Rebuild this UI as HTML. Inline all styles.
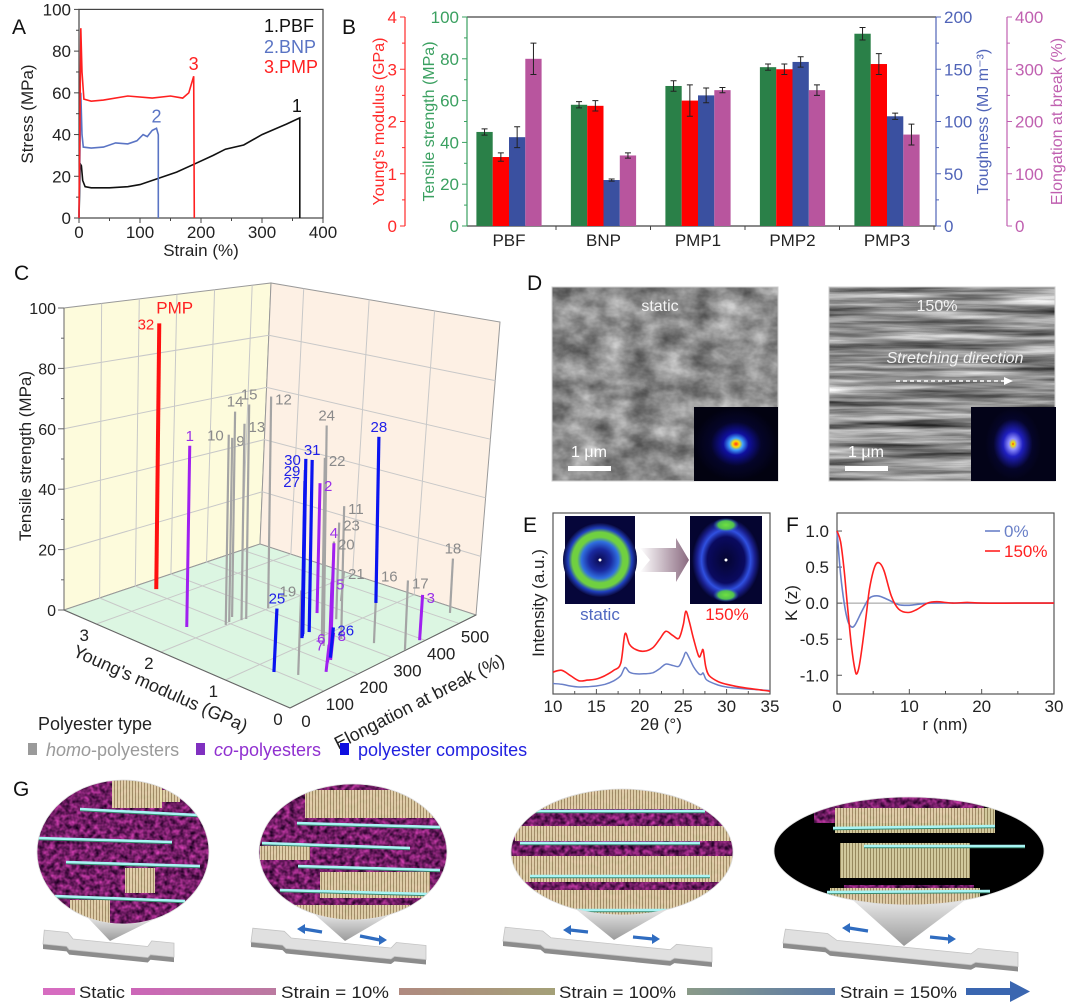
<!DOCTYPE html>
<html><head><meta charset="utf-8"><style>
html,body{margin:0;padding:0;background:#fff;}
svg{display:block;font-family:"Liberation Sans",Arial,sans-serif;}
filter{color-interpolation-filters:sRGB;}
</style></head><body>
<svg id="fig" width="1080" height="1008" viewBox="0 0 1080 1008" xmlns="http://www.w3.org/2000/svg">
<defs>
<filter id="semA" x="0" y="0" width="1" height="1" color-interpolation-filters="sRGB"><feTurbulence type="fractalNoise" baseFrequency="0.035 0.05" numOctaves="4" seed="3"/><feColorMatrix type="matrix" values="0.7 0 0 0 0.2  0.7 0 0 0 0.2  0.7 0 0 0 0.2  0 0 0 0 1"/></filter>
<filter id="semB" x="0" y="0" width="1" height="1" color-interpolation-filters="sRGB"><feTurbulence type="fractalNoise" baseFrequency="0.008 0.14" numOctaves="4" seed="7"/><feColorMatrix type="matrix" values="1.1 0 0 0 0.0  1.1 0 0 0 0.0  1.1 0 0 0 0.0  0 0 0 0 1"/></filter>
<filter id="fib" x="0" y="0" width="1" height="1" color-interpolation-filters="sRGB"><feTurbulence type="fractalNoise" baseFrequency="0.2" numOctaves="2" seed="5"/><feColorMatrix type="matrix" values="1.0 0 0 0 -0.05  0.35 0 0 0 -0.06  0.8 0 0 0 0.0  0 0 0 0 1"/></filter>
<radialGradient id="fftA"><stop offset="0" stop-color="#ff3020"/><stop offset="0.08" stop-color="#ffe000"/><stop offset="0.16" stop-color="#40a0ff"/><stop offset="0.3" stop-color="#1010a0"/><stop offset="0.6" stop-color="#05052a"/><stop offset="1" stop-color="#020210"/></radialGradient>
<radialGradient id="fftB"><stop offset="0" stop-color="#ff3020"/><stop offset="0.05" stop-color="#f0e000"/><stop offset="0.15" stop-color="#9090ff"/><stop offset="0.35" stop-color="#2020c0"/><stop offset="0.7" stop-color="#05052a"/><stop offset="1" stop-color="#030318"/></radialGradient>
<radialGradient id="ringA"><stop offset="0" stop-color="#0a0a50"/><stop offset="0.3" stop-color="#1a2aa0"/><stop offset="0.5" stop-color="#3070e0"/><stop offset="0.62" stop-color="#70d040"/><stop offset="0.75" stop-color="#70d040"/><stop offset="0.86" stop-color="#2040c0"/><stop offset="1" stop-color="#0a0a40"/></radialGradient>
<radialGradient id="ringB"><stop offset="0" stop-color="#050530"/><stop offset="0.55" stop-color="#0a0a60"/><stop offset="0.72" stop-color="#3050e0"/><stop offset="0.85" stop-color="#1a2090"/><stop offset="1" stop-color="#050530"/></radialGradient>
<radialGradient id="spot"><stop offset="0" stop-color="#70e040"/><stop offset="0.6" stop-color="#50c050"/><stop offset="1" stop-color="#3050e0" stop-opacity="0"/></radialGradient>
<linearGradient id="arrowE" x1="0" x2="1"><stop offset="0" stop-color="#ffffff"/><stop offset="1" stop-color="#8a6a80"/></linearGradient>
<linearGradient id="cone" x1="0" y1="0" x2="0" y2="1"><stop offset="0" stop-color="#e8e8e8"/><stop offset="1" stop-color="#9a9a9a"/></linearGradient>
<linearGradient id="seg1" x1="0" x2="1"><stop offset="0" stop-color="#cc66b8"/><stop offset="1" stop-color="#bb7aa0"/></linearGradient>
<linearGradient id="seg2" x1="0" x2="1"><stop offset="0" stop-color="#b08a80"/><stop offset="1" stop-color="#a4a078"/></linearGradient>
<linearGradient id="seg3" x1="0" x2="1"><stop offset="0" stop-color="#8a9a88"/><stop offset="1" stop-color="#5a7aa8"/></linearGradient>
<pattern id="yel" width="3" height="10" patternUnits="userSpaceOnUse"><rect width="3" height="10" fill="#e9dfae"/><rect width="1" height="10" fill="#a89868"/></pattern>
<clipPath id="cE1"><ellipse cx="123" cy="852" rx="86" ry="72"/></clipPath>
<clipPath id="cE2"><ellipse cx="353" cy="852" rx="94" ry="68"/></clipPath>
<clipPath id="cE3"><ellipse cx="622" cy="852" rx="111" ry="63"/></clipPath>
<clipPath id="cE4"><ellipse cx="909" cy="851" rx="135" ry="54"/></clipPath>
</defs>
<rect width="1080" height="1008" fill="#fff"/>
<g id="pA"></g>
<g id="pB"></g>
<g id="pC"></g>
<g id="pD"></g>
<g id="pE"></g>
<g id="pF"></g>
<g id="pG"></g>
</svg>
<script>
// ---------- Panel A data ----------
const strainPBF=[0,2,4,6,10,20,50,80,100,130,160,190,220,240,270,300,340,362,362];
const stressPBF=[0,26,25,18,15,14.5,14.5,15,16,19,22,26,30,33,35,40,45,48,0];
const strainBNP=[0,3,5,7,20,40,60,80,95,105,112,120,127,130,130];
const stressBNP=[0,60,40,34,33.5,34,36,35.5,37,40,39,42,43,40,0];
const strainPMP=[0,3,5,8,20,40,80,120,150,170,180,188,189];
const stressPMP=[0,91,70,57,56,56.5,58.5,57.5,58.5,57.5,60,68,0];
const aXTicks=[0,100,200,300,400];
const aYTicks=[0,20,40,60,80,100];
// ---------- Panel B data ----------
const bCats=["PBF","BNP","PMP1","PMP2","PMP3"];
const bStrength=[45,58,67,76,92];
const bStrengthErr=[1.5,1.5,2.5,1.5,3];
const bModulus=[1.32,2.3,2.4,3.0,3.1];
const bModulusErr=[0.08,0.1,0.3,0.1,0.2];
const bTough=[85,44,125,157,105];
const bToughErr=[10,1,7,5,3];
const bElong=[320,135,260,260,175];
const bElongErr=[30,5,5,10,20];
// ---------- Panel C data ----------
const cIds=["32","1","10","9","14","13","15","12","24","22","11","23","20","21","19","16","17","18","28","25","3","2","4","5","6","7","8","26","27","29","30","31"];
const cModulus=[3.08,2.2,1.91,1.93,1.99,1.86,1.84,1.84,0.75,0.93,0.72,1.09,1.37,1.35,0.48,0.38,0.01,0.25,1.03,0.73,0.05,1.35,0.69,0.52,0.45,0.3,0.46,0.5,1.06,1.09,1.12,1.1];
const cElong=[193,115,175,189,209,212,222,287,243,272,289,345,383,409,116,321,342,521,451,92,393,338,253,215,197,164,208,215,238,245,252,267];
const cStrength=[88,60,63,61,68,65,71,70,73,59,44,32,21,10,28,23,23,18,55,21,15,43,34,25,8,9,9,10,52,55,58,57];
const cType=["pmp","c","h","h","h","h","h","h","h","h","h","h","h","h","h","h","h","h","p","p","c","c","c","c","c","c","c","p","p","p","p","p"];
const cLabelSide=["L","T","L","R","T","R","T","R","T","R","R","R","R","R","L","R","R","T","T","T","R","R","T","R","L","L","R","R","L","L","L","T"];
const cZTicks=[0,20,40,60,80,100];
const cMTicks=[0,1,2,3];
const cETicks=[0,100,200,300,400,500];
// ---------- Panel E data ----------
const eTheta=[10,11,12,13,14,15,16,17,17.8,18.3,18.8,19.5,20.5,21.5,22.3,23,23.8,24.5,25,25.3,25.7,26.2,26.8,27.1,27.3,27.6,28,29,30,32,35];
const eRed=[63,68,53,38,40,43,53,68,88,173,143,128,123,133,158,180,168,160,198,238,208,158,108,118,126,78,53,36,28,18,8];
const eBlue=[30,28,23,20,21,23,28,38,53,76,63,58,58,61,73,86,82,80,103,120,103,78,58,56,60,43,36,26,20,15,10];
const eXTicks=[10,15,20,25,30,35];
// ---------- Panel F data ----------
const fRr=[0,0.5,1,1.5,2,2.5,2.8,3.2,4,4.5,5.2,5.8,6.5,7.5,8.5,9.8,11,12.5,13.8,16,18,20,25,30];
const fKr=[1,0.85,0.45,-0.1,-0.6,-0.93,-0.97,-0.8,-0.2,0.2,0.5,0.56,0.45,0.1,-0.08,-0.13,-0.09,0,0.02,0,0.01,0,0,0];
const fRb=[0,0.5,1,1.5,2,2.5,3.5,4.5,5.7,7,8.5,10,13,20,30];
const fKb=[1,0.4,0,-0.25,-0.33,-0.3,-0.1,0.07,0.1,0.05,-0.02,-0.03,0,0,0];
const fXTicks=[0,10,20,30];
const fYTicks=[1.0,0.5,0.0,-0.5,-1.0];

const NS='http://www.w3.org/2000/svg';
function el(tag,attrs,parent){const e=document.createElementNS(NS,tag);for(const k in attrs)e.setAttribute(k,attrs[k]);parent.appendChild(e);return e;}
function tx(s,attrs,parent){const t=el('text',attrs,parent);t.textContent=s;return t;}
function poly(xs,ys,fx,fy){return xs.map((v,i)=>(i?'L':'M')+fx(v).toFixed(1)+','+fy(ys[i]).toFixed(1)).join(' ');}
function smooth(xs,ys,fx,fy){const P=xs.map((v,i)=>[fx(v),fy(ys[i])]);let d='M'+P[0][0]+','+P[0][1];for(let i=0;i<P.length-1;i++){const p0=P[Math.max(0,i-1)],p1=P[i],p2=P[i+1],p3=P[Math.min(P.length-1,i+2)];const c1=[p1[0]+(p2[0]-p0[0])/6,p1[1]+(p2[1]-p0[1])/6],c2=[p2[0]-(p3[0]-p1[0])/6,p2[1]-(p3[1]-p1[1])/6];d+=` C${c1[0].toFixed(1)},${c1[1].toFixed(1)} ${c2[0].toFixed(1)},${c2[1].toFixed(1)} ${p2[0].toFixed(1)},${p2[1].toFixed(1)}`;}return d;}
const FT='font-size';

// ================= Panel A =================
(function(){
const g=document.getElementById('pA');
const xA=s=>79+s*(323-79)/400, yA=v=>218-v*(218-9.4)/100;
let t=tx('A',{x:12,y:34,[FT]:21,fill:'#111'},g);

const box=el('rect',{x:79,y:9.4,width:244,height:208.6,fill:'none',stroke:'#444','stroke-width':1.2},g);

aXTicks.forEach(v=>{el('line',{x1:xA(v),x2:xA(v),y1:218,y2:223,stroke:'#444'},g);
 const l=tx(String(v),{x:xA(v),y:238,[FT]:17,'text-anchor':'middle',fill:'#222'},g);
 
 if(v<400){el('line',{x1:xA(v+50),x2:xA(v+50),y1:218,y2:221,stroke:'#444'},g);}});
aYTicks.forEach(v=>{el('line',{x1:74,x2:79,y1:yA(v),y2:yA(v),stroke:'#444'},g);
 const l=tx(String(v),{x:71,y:yA(v)+6,[FT]:17,'text-anchor':'end',fill:'#222'},g);
 
 if(v<100)el('line',{x1:76,x2:79,y1:yA(v+10),y2:yA(v+10),stroke:'#444'},g);});
t=tx('Stress (MPa)',{x:0,y:0,[FT]:17,'text-anchor':'middle',fill:'#222',transform:'translate(33,114) rotate(-90)'},g);

t=tx('Strain (%)',{x:201,y:256,[FT]:17,'text-anchor':'middle',fill:'#222'},g);

let p=el('path',{d:poly(strainPBF,stressPBF,xA,yA),fill:'none',stroke:'#111','stroke-width':1.6},g);

p=el('path',{d:poly(strainBNP,stressBNP,xA,yA),fill:'none',stroke:'#5a74c4','stroke-width':1.6},g);

p=el('path',{d:poly(strainPMP,stressPMP,xA,yA),fill:'none',stroke:'#ff2020','stroke-width':1.6},g);

t=tx('1',{x:xA(strainPBF[17])-8,y:yA(stressPBF[17])-6,[FT]:18,fill:'#111'},g);
t=tx('2',{x:xA(strainBNP[12])-5,y:yA(stressBNP[12])-6,[FT]:18,fill:'#5a74c4'},g);
t=tx('3',{x:xA(strainPMP[11])-5,y:yA(stressPMP[11])-6,[FT]:18,fill:'#ff2020'},g);
t=tx('1.PBF',{x:264,y:32,[FT]:18,fill:'#111'},g);
t=tx('2.BNP',{x:264,y:53,[FT]:18,fill:'#5a74c4'},g);
t=tx('3.PMP',{x:264,y:73,[FT]:18,fill:'#ff2020'},g);
})();

// ================= Panel B =================
(function(){
const g=document.getElementById('pB');
const top=17,bot=226,L=467,R=936;
const yG=v=>bot-v/100*(bot-top), yR=v=>bot-v/4*(bot-top), yT=v=>bot-v/200*(bot-top), yEl=v=>bot-v/400*(bot-top);
let t=tx('B',{x:342,y:34,[FT]:21,fill:'#111'},g);
el('line',{x1:L,x2:R,y1:top,y2:top,stroke:'#444','stroke-width':1.2},g);
el('line',{x1:L,x2:R,y1:bot,y2:bot,stroke:'#444','stroke-width':1.2},g);
function axis(x,ticks,fy,col,side,title,tx0,name){
 const a=el('g',{},g);
 el('line',{x1:x,x2:x,y1:top,y2:bot,stroke:col,'stroke-width':1.2},a);
 ticks.forEach((v,i)=>{const y=fy(v);el('line',{x1:x,x2:x+side*5,y1:y,y2:y,stroke:col},a);
  tx(String(v),{x:x+side*8,y:y+6,[FT]:17,'text-anchor':side<0?'end':'start',fill:col},a);
  if(i<ticks.length-1){const y2=fy((v+ticks[i+1])/2);el('line',{x1:x,x2:x+side*3,y1:y2,y2:y2,stroke:col},a);}});
 tx(title,{x:0,y:0,[FT]:16,'text-anchor':'middle',fill:col,transform:`translate(${tx0},${(top+bot)/2}) rotate(-90)`},a);
}
axis(405,[0,1,2,3,4],yR,'#ff2a2a',-1,"Young's modulus (GPa)",384,'y-axis-modulus');
axis(467,[0,20,40,60,80,100],yG,'#3aa060',-1,'Tensile strength (MPa)',434,'y-axis-strength');
axis(936,[0,50,100,150,200],yT,'#5064b8',1,'Toughness (MJ m\u207B\u00B3)',988,'y-axis-toughness');
axis(1007,[0,100,200,300,400],yEl,'#c060b0',1,'Elongation at break (%)',1062,'y-axis-elongation');
const series=[[bStrength,bStrengthErr,yG,'#2a8048','bar-strength'],[bModulus,bModulusErr,yR,'#ff0000','bar-modulus'],[bTough,bToughErr,yT,'#3a50a0','bar-toughness'],[bElong,bElongErr,yEl,'#b8559e','bar-elongation']];
const bw=16.3;
bCats.forEach((c,i)=>{
 const cx=509+i*94.5;
 el('line',{x1:cx+47,x2:cx+47,y1:bot,y2:bot+4,stroke:'#444'},g);
 const l=tx(c,{x:cx,y:246,[FT]:17,'text-anchor':'middle',fill:'#222'},g);
 
 series.forEach((s,j)=>{const v=s[0][i],e=s[1][i],fy=s[2];const x=cx-2*bw+j*bw;
  const r=el('rect',{x:x,y:fy(v),width:bw,height:bot-fy(v),fill:s[3]},g);
  
  const eb=el('path',{d:`M${x+bw/2},${fy(v+e)}V${fy(v-e)}M${x+bw/2-3},${fy(v+e)}h6M${x+bw/2-3},${fy(v-e)}h6`,stroke:'#222','stroke-width':1,fill:'none'},g);
  });
});
})();

// ================= Panel C =================
(function(){
const g=document.getElementById('pC');
const F=[290,708],Mv=[-64.6,-28],Ev=[0.338,-0.169],kz=3.02;
const P=(m,e)=>[F[0]+m*Mv[0]+e*Ev[0],F[1]+m*Mv[1]+e*Ev[1]];
const cL=[64,610],cB=[260,544],cR=[476,615],cF=[290,708];
const tL=[64,308],tB=[271,283],tR=[500,322];
const lerp=(a,b,t)=>[a[0]+(b[0]-a[0])*t,a[1]+(b[1]-a[1])*t];
let t=tx('C',{x:14,y:280,[FT]:21,fill:'#111'},g);
let w=el('polygon',{points:[cL,cB,tB,tL].join(' '),fill:'#fdfbdc',stroke:'#999'},g);
w=el('polygon',{points:[cB,cR,tR,tB].join(' '),fill:'#fdf0e4',stroke:'#999'},g);
w=el('polygon',{points:[cL,cB,cR,cF].join(' '),fill:'#dcf6e2',stroke:'#999'},g);
const grid=el('g',{stroke:'#c8c8c8','stroke-width':1,fill:'none'},g);
[20,40,60,80].forEach(z=>{const a=[64,610-kz*z],b=[260+11*z/100,544-2.61*z],c=[476+24*z/100,615-2.93*z];
 el('polyline',{points:[a,b,c].join(' ')},grid);});
for(let i=1;i<6;i++){const f=i/5.5;const a=lerp(cL,cB,f),b=lerp(tL,tB,f);el('line',{x1:a[0],y1:a[1],x2:b[0],y2:b[1]},grid);
 const c=lerp(cF,cR,f);el('line',{x1:a[0],y1:a[1],x2:c[0],y2:c[1]},grid);}
for(let i=1;i<4;i++){const f=i/3.5;const a=lerp(cR,cB,f),b=lerp(tR,tB,f);el('line',{x1:a[0],y1:a[1],x2:b[0],y2:b[1]},grid);
 const c=lerp(cF,cL,f);el('line',{x1:a[0],y1:a[1],x2:c[0],y2:c[1]},grid);}
const za=el('g',{},g);
el('line',{x1:64,x2:64,y1:610,y2:308,stroke:'#666'},za);
cZTicks.forEach(v=>{const y=610-kz*v;el('line',{x1:58,x2:64,y1:y,y2:y,stroke:'#666'},za);
 tx(String(v),{x:56,y:y+6,[FT]:16,'text-anchor':'end',fill:'#222'},za);
 if(v<100)el('line',{x1:61,x2:64,y1:y-kz*10,y2:y-kz*10,stroke:'#666'},za);});
t=tx('Tensile strength (MPa)',{x:0,y:0,[FT]:17,'text-anchor':'middle',fill:'#222',transform:'translate(31,456) rotate(-90)'},g);

const ma=el('g',{},g);
el('line',{x1:cL[0],y1:cL[1],x2:cF[0],y2:cF[1],stroke:'#666'},ma);
cMTicks.forEach(v=>{const p=P(v,0);tx(String(v),{x:p[0]-12,y:p[1]+17,[FT]:17,'text-anchor':'middle',fill:'#222'},ma);});
t=tx("Young's modulus (GPa)",{x:0,y:0,[FT]:18,'text-anchor':'middle',fill:'#222',transform:'translate(158,694) rotate(24)'},g);

const ea=el('g',{},g);
el('line',{x1:cF[0],y1:cF[1],x2:cR[0],y2:cR[1],stroke:'#666'},ea);
cETicks.forEach(v=>{const p=P(0,v);tx(String(v),{x:p[0]+16,y:p[1]+19,[FT]:17,'text-anchor':'middle',fill:'#222'},ea);});
t=tx('Elongation at break (%)',{x:0,y:0,[FT]:18,'text-anchor':'middle',fill:'#222',transform:'translate(422,707) rotate(-27)'},g);

const col={h:'#a4a4a4',c:'#a020f0',p:'#0a14f0',pmp:'#ff1010'};
const lcol={h:'#8a8a8a',c:'#9a30e8',p:'#2020e8',pmp:'#ff2020'};
const wid={h:2.2,c:3,p:3.2,pmp:4};
cIds.forEach((id,i)=>{const b=P(cModulus[i],cElong[i]);const ty=b[1]-cStrength[i]*kz;const ty2=cType[i];
 const ln=el('line',{x1:b[0],y1:b[1],x2:b[0]+3,y2:ty,stroke:col[ty2],'stroke-width':wid[ty2]},g);
 
 const s=cLabelSide[i];let lx=b[0]+3,ly=ty-5,an='middle';
 if(s==='L'){lx=b[0]-2;ly=ty+6;an='end';}else if(s==='R'){lx=b[0]+7;ly=ty+8;an='start';}
 const lb=tx(id,{x:lx,y:ly,[FT]:15,'text-anchor':an,fill:lcol[ty2]},g);
 
 if(ty2==='pmp'){const pl=tx('PMP',{x:b[0]+0,y:ty-10,[FT]:17,fill:'#ff2020'},g);}
});
t=tx('Polyester type',{x:38,y:730,[FT]:18,fill:'#222'},g);
const lg=[['#9a9a9a','homo','-polyesters',28,'#9a9a9a'],['#8030c0','co','-polyesters',196,'#9030d0'],['#1010e0','','polyester composites',340,'#2020e0']];
lg.forEach(a=>{const gg=el('g',{},g);
 el('rect',{x:a[3],y:743,width:9,height:12,fill:a[0]},gg);
 const tt=el('text',{x:a[3]+18,y:756,[FT]:18,fill:a[4]},gg);
 if(a[1]){const s1=el('tspan',{'font-style':'italic'},tt);s1.textContent=a[1];}
 const s2=el('tspan',{},tt);s2.textContent=a[2];});
})();

// ================= Panel D =================
(function(){
const g=document.getElementById('pD');
let t=tx('D',{x:527,y:290,[FT]:21,fill:'#111'},g);
function sem(x,filt,label,name){const s=el('g',{},g);
 el('rect',{x:x,y:287,width:226,height:194,filter:filt,fill:'#888'},s);
 el('rect',{x:x,y:287,width:226,height:194,fill:'none',stroke:'#ccc'},s);
 tx(label,{x:x+108,y:311,[FT]:16,'text-anchor':'middle',fill:'#f4f4f4'},s);
 el('rect',{x:x+16,y:466,width:43,height:5,fill:'#fff'},s);
 tx('1 \u03BCm',{x:x+37,y:457,[FT]:16,'text-anchor':'middle',fill:'#fff'},s);
 return s;}
const s1=sem(552,'url(#semA)','static','sem-static');
const i1=el('rect',{x:694,y:407,width:84,height:74,fill:'url(#fftA)'},s1);
const s2=sem(829,'url(#semB)','150%','sem-150');
el('rect',{x:971,y:407,width:85,height:74,fill:'#030318'},s2);
const i2=el('ellipse',{cx:1013,cy:444,rx:28,ry:36,fill:'url(#fftB)'},s2);
t=tx('Stretching direction',{x:955,y:363,[FT]:16,'text-anchor':'middle','font-style':'italic',fill:'#f4f4f4'},s2);
const ar=el('path',{d:'M896,381H1006',stroke:'#fff','stroke-width':1.5,'stroke-dasharray':'4,3'},s2);
el('path',{d:'M1004,377L1013,381L1004,385Z',fill:'#fff'},s2);
})();

// ================= Panel E =================
(function(){
const g=document.getElementById('pE');
const L=553,R=770,T=513,B=694;
const xE=v=>L+(v-10)/25*(R-L), yE=v=>B-v/520*(B-T);
let t=tx('E',{x:523,y:532,[FT]:21,fill:'#111'},g);
el('rect',{x:L,y:T,width:R-L,height:B-T,fill:'none',stroke:'#555','stroke-width':1.2},g);
eXTicks.forEach((v,i)=>{el('line',{x1:xE(v),x2:xE(v),y1:B,y2:B-5,stroke:'#555'},g);
 const l=tx(String(v),{x:xE(v),y:712,[FT]:17,'text-anchor':'middle',fill:'#222'},g);
 if(i<eXTicks.length-1)el('line',{x1:xE(v+2.5),x2:xE(v+2.5),y1:B,y2:B-3,stroke:'#555'},g);});
t=tx('2\u03B8 (\u00B0)',{x:661,y:730,[FT]:17,'text-anchor':'middle',fill:'#222'},g);
t=tx('Intensity (a.u.)',{x:0,y:0,[FT]:17,'text-anchor':'middle',fill:'#222',transform:'translate(544,603) rotate(-90)'},g);
let p=el('path',{d:smooth(eTheta,eBlue,xE,yE),fill:'none',stroke:'#6a80c8','stroke-width':1.5},g);
p=el('path',{d:smooth(eTheta,eRed,xE,yE),fill:'none',stroke:'#ff2020','stroke-width':1.6},g);
const ia=el('rect',{x:565,y:516,width:70,height:88,fill:'#06063a'},g);
el('circle',{cx:600,cy:560,r:37,fill:'url(#ringA)'},g);el('circle',{cx:600,cy:560,r:1.5,fill:'#fff'},g);
const ib=el('rect',{x:690,y:516,width:72,height:88,fill:'#050530'},g);
el('ellipse',{cx:726,cy:560,rx:34,ry:42,fill:'url(#ringB)'},g);
el('ellipse',{cx:726,cy:525,rx:13,ry:7,fill:'url(#spot)'},g);el('ellipse',{cx:726,cy:595,rx:13,ry:7,fill:'url(#spot)'},g);
el('circle',{cx:726,cy:560,r:1.5,fill:'#fff'},g);
const ar=el('path',{d:'M640,548H676V538L689,560L676,582V572H640L650,560Z',fill:'url(#arrowE)'},g);
t=tx('static',{x:600,y:620,[FT]:17,'text-anchor':'middle',fill:'#5068c0'},g);
t=tx('150%',{x:727,y:620,[FT]:17,'text-anchor':'middle',fill:'#ff2020'},g);
})();

// ================= Panel F =================
(function(){
const g=document.getElementById('pF');
const L=837,R=1054,T=513,B=694;
const xF=v=>L+v/30*(R-L), yF=v=>T+(1.25-v)/2.51*(B-T);
let t=tx('F',{x:786,y:532,[FT]:21,fill:'#111'},g);
el('rect',{x:L,y:T,width:R-L,height:B-T,fill:'none',stroke:'#555','stroke-width':1.2},g);
el('line',{x1:L,x2:R,y1:yF(0),y2:yF(0),stroke:'#999','stroke-width':1},g);
fXTicks.forEach((v,i)=>{el('line',{x1:xF(v),x2:xF(v),y1:B,y2:B-5,stroke:'#555'},g);
 const l=tx(String(v),{x:xF(v),y:712,[FT]:17,'text-anchor':'middle',fill:'#222'},g);
 if(i<fXTicks.length-1)el('line',{x1:xF(v+5),x2:xF(v+5),y1:B,y2:B-3,stroke:'#555'},g);});
fYTicks.forEach(v=>{el('line',{x1:L,x2:L+5,y1:yF(v),y2:yF(v),stroke:'#555'},g);
 const l=tx(v.toFixed(1),{x:829,y:yF(v)+6,[FT]:17,'text-anchor':'end',fill:'#222'},g);});
t=tx('K (z)',{x:0,y:0,[FT]:17,'text-anchor':'middle',fill:'#222',transform:'translate(797,603) rotate(-90)'},g);
t=tx('r (nm)',{x:945,y:730,[FT]:17,'text-anchor':'middle',fill:'#222'},g);
let p=el('path',{d:smooth(fRb,fKb,xF,yF),fill:'none',stroke:'#6a80c8','stroke-width':1.6},g);
p=el('path',{d:smooth(fRr,fKr,xF,yF),fill:'none',stroke:'#ff2020','stroke-width':1.6},g);
let lg=el('g',{},g);
el('line',{x1:985,x2:1000,y1:531,y2:531,stroke:'#6a80c8','stroke-width':1.6},lg);tx('0%',{x:1004,y:537,[FT]:17,fill:'#6a80c8'},lg);
lg=el('g',{},g);
el('line',{x1:985,x2:1000,y1:551,y2:551,stroke:'#ff2020','stroke-width':1.6},lg);tx('150%',{x:1004,y:557,[FT]:17,fill:'#ff2020'},lg);
})();

// ================= Panel G =================
(function(){
const g=document.getElementById('pG');
let t=tx('G',{x:13,y:796,[FT]:21,fill:'#111'},g);
const ells=[
 {cx:123,cy:852,rx:86,ry:72,bg:'fib',clip:'cE1',tip:[110,941],spec:[43,930,131],y:[[112,780,50,28],[160,790,20,12],[125,868,30,25],[70,900,40,30]],lines:[[80,809,198,815],[38,838,172,842],[66,862,200,866],[55,896,185,901]],arrows:false},
 {cx:353,cy:852,rx:94,ry:68,bg:'fib',clip:'cE2',tip:[345,941],spec:[251,928,175],y:[[305,790,130,28],[260,846,50,14],[320,872,110,26],[290,905,120,20]],lines:[[297,823,440,827],[262,843,410,848],[298,866,440,870],[280,890,430,894]],arrows:[[322,932,298,929],[360,936,386,940]]},
 {cx:622,cy:852,rx:111,ry:63,bg:'fib',clip:'cE3',tip:[614,940],spec:[503,927,209],y:[[510,789,230,20],[515,826,220,15],[510,856,230,26],[530,890,200,25]],lines:[[530,811,705,811],[520,843,700,843],[530,876,710,876],[560,910,680,910]],arrows:[[588,932,564,930],[633,937,659,939]]},
 {cx:909,cy:851,rx:135,ry:54,bg:'black',clip:'cE4',tip:[904,946],spec:[783,929,235],y:[[835,808,160,25],[840,843,130,35],[830,888,150,17]],lines:[[833,828,995,826],[864,846,1025,846],[827,892,990,891]],arrows:[[868,931,843,928],[930,937,955,939]]}];
ells.forEach((E,i)=>{
 const gg=el('g',{},g);
 const sx=E.spec[0],sy=E.spec[1],sw=E.spec[2],sl=0.1;
 const pt=(u,v)=>`${(sx+u*sw).toFixed(1)},${(sy+v+u*sw*sl).toFixed(1)}`;
 const sp=el('g',{},gg);
 el('polygon',{points:[pt(0,14),pt(0.18,14),pt(0.2,17),pt(0.8,17),pt(0.82,14),pt(1,14),pt(1,19),pt(0.82,19),pt(0.8,22),pt(0.2,22),pt(0.18,19),pt(0,19)].join(' '),fill:'#8c8c8c'},sp);
 el('polygon',{points:[pt(0.01,0),pt(0.19,0),pt(0.23,6),pt(0.8,6),pt(0.83,0),pt(1,0),pt(1,14),pt(0.82,14),pt(0.8,17),pt(0.2,17),pt(0.18,14),pt(0,14)].join(' '),fill:'#e0e0e0',stroke:'#c4c4c4','stroke-width':0.8},sp);
 const c=el('polygon',{points:`${E.cx-E.rx*0.42},${E.cy+E.ry*0.9} ${E.cx+E.rx*0.42},${E.cy+E.ry*0.9} ${E.tip[0]},${E.tip[1]}`,fill:'url(#cone)'},gg);
 
 const eg=el('g',{'clip-path':`url(#${E.clip})`},gg);
 if(E.bg==='fib')el('rect',{x:E.cx-E.rx,y:E.cy-E.ry,width:2*E.rx,height:2*E.ry,filter:'url(#fib)',fill:'#702060'},eg);
 else {el('rect',{x:E.cx-E.rx,y:E.cy-E.ry,width:2*E.rx,height:2*E.ry,fill:'#000'},eg);
  el('rect',{x:E.cx-E.rx+40,y:E.cy-E.ry,width:2*E.rx-100,height:26,filter:'url(#fib)'},eg);
  el('rect',{x:E.cx-E.rx+70,y:E.cy+34,width:2*E.rx-140,height:22,filter:'url(#fib)'},eg);}
 E.y.forEach(r=>el('rect',{x:r[0],y:r[1],width:r[2],height:r[3],fill:'url(#yel)',opacity:0.9},eg));
 E.lines.forEach(l=>{el('line',{x1:l[0],y1:l[1]+1.5,x2:l[2],y2:l[3]+1.5,stroke:'#3a8a70','stroke-width':1.5},eg);
  el('line',{x1:l[0],y1:l[1],x2:l[2],y2:l[3],stroke:'#a8f4f4','stroke-width':2.5},eg);});
 el('ellipse',{cx:E.cx,cy:E.cy,rx:E.rx,ry:E.ry,fill:'none',stroke:'#ddd','stroke-width':0.8},gg);
 if(E.arrows)E.arrows.forEach(a=>{const d=Math.sign(a[2]-a[0]);
  const ar=el('path',{d:`M${a[0]},${a[1]}L${a[2]-d*6},${a[3]}`,stroke:'#2f6cc0','stroke-width':3.2},gg);
  
  el('path',{d:`M${a[2]-d*7},${a[3]-5}L${a[2]+d*1},${a[3]}L${a[2]-d*7},${a[3]+5}Z`,fill:'#2f6cc0'},gg);});
});
const bar=el('g',{},g);
el('rect',{x:43,y:988,width:32,height:7,fill:'#d66cc0'},bar);
el('rect',{x:131,y:988,width:145,height:7,fill:'url(#seg1)'},bar);
el('rect',{x:399,y:988,width:156,height:7,fill:'url(#seg2)'},bar);
el('rect',{x:687,y:988,width:148,height:7,fill:'url(#seg3)'},bar);
el('path',{d:'M966,988H1010V981L1030,991.5L1010,1002V995H966Z',fill:'#3a66b0'},bar);
[['Static',79,46],['Strain = 10%',281,108],['Strain = 100%',559,117],['Strain = 150%',840,117]].forEach(a=>{
 const l=tx(a[0],{x:a[1],y:998,[FT]:17,fill:'#222',textLength:a[2],lengthAdjust:'spacingAndGlyphs'},bar);
 });
})();
</script>
</body></html>
